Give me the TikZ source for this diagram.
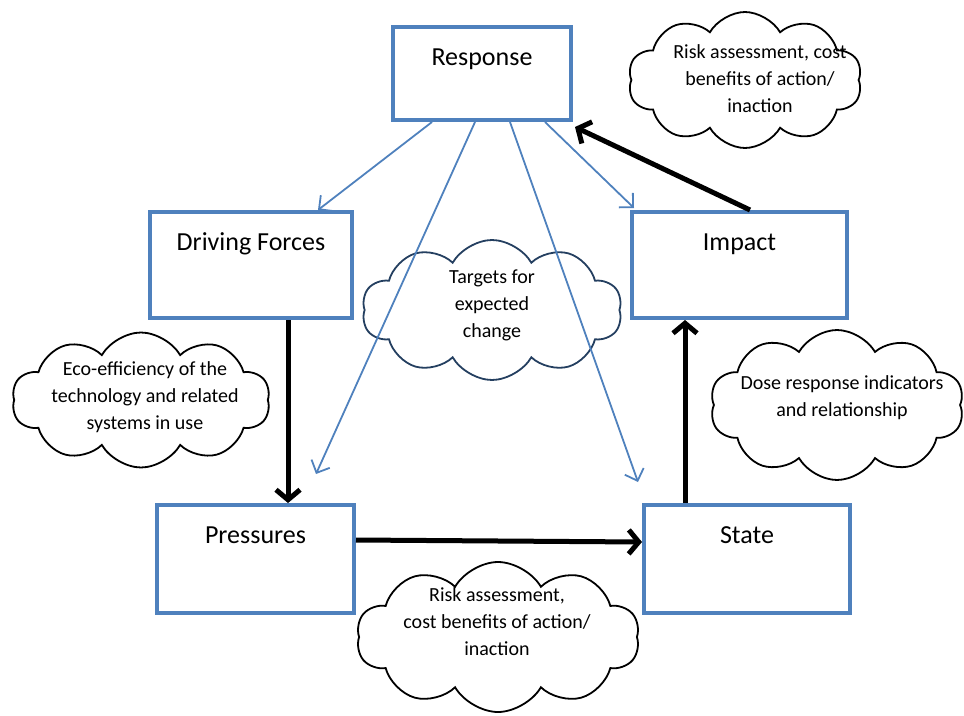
\documentclass[tikz,border=0pt]{standalone}
\usepackage{fontspec}
\setmainfont{Carlito}
\usetikzlibrary{shapes.symbols,arrows.meta,calc}
\definecolor{boxblue}{HTML}{4F81BD}
\definecolor{cloudnavy}{HTML}{243F60}
\tikzset{
  dbox/.style={draw=boxblue,line width=4pt,rectangle,inner sep=0pt},
  boxtext/.style={anchor=base,font=\fontsize{26}{30}\selectfont},
  puff/.style={cloud,draw=black,line width=1.8pt,cloud puffs=10,cloud puff arc=120,cloud ignores aspect,inner sep=0pt},
  cloudtext/.style={align=center,font=\fontsize{20}{27}\selectfont},
  thinarrow/.style={draw=boxblue,line width=1.8pt,-{Straight Barb[length=10pt,width=20pt]}},
  thickarrow/.style={draw=black,line width=5pt,-{Straight Barb[length=10pt,width=24pt]}}
}
\begin{document}
\begin{tikzpicture}[x=1pt,y=-1pt]
\useasboundingbox (0,0) rectangle (964,715);
% boxes
\node[dbox,minimum width=178pt,minimum height=93pt] (resp) at (482,73.5) {};
\node[dbox,minimum width=202pt,minimum height=106pt] (drv) at (251,265) {};
\node[dbox,minimum width=215pt,minimum height=106pt] (imp) at (739.5,265) {};
\node[dbox,minimum width=197pt,minimum height=108pt] (pres) at (255.5,559) {};
\node[dbox,minimum width=206pt,minimum height=108pt] (state) at (747,559) {};
\node[boxtext] (resp-t) at (482,65) {Response};
\node[boxtext] (drv-t) at (251,250) {Driving Forces};
\node[boxtext] (imp-t) at (739.5,250) {Impact};
\node[boxtext] (pres-t) at (255.5,543) {Pressures};
\node[boxtext] (state-t) at (747,543) {State};
% clouds
\node[puff,minimum width=234pt,minimum height=136pt] (c1) at (745,80) {};
\node[cloudtext] (c1-t) at (760,79) {Risk assessment, cost\\benefits of action/\\inaction};
\node[puff,minimum width=258pt,minimum height=135pt] (c2) at (141,400) {};
\node[cloudtext] (c2-t) at (145,397) {Eco-efficiency of the\\technology and related\\systems in use};
\node[puff,draw=cloudnavy,minimum width=260pt,minimum height=140pt] (c3) at (492,310) {};
\node[cloudtext] (c3-t) at (492,305) {Targets for\\expected\\change};
\node[puff,minimum width=254pt,minimum height=150pt] (c4) at (837,405) {};
\node[cloudtext] (c4-t) at (842,398) {Dose response indicators\\and relationship};
\node[puff,minimum width=283pt,minimum height=150pt] (c5) at (498,637) {};
\node[cloudtext] (c5-t) at (497,622) {Risk assessment,\\cost benefits of action/\\inaction};
% blue arrows from Response
\draw[thinarrow] ([xshift=-50pt]resp.south) -- ([xshift=67pt]drv.north);
\draw[thinarrow] ([xshift=-7pt]resp.south) -- ([shift={(60.5,-29)}]pres.north);
\draw[thinarrow] ([xshift=28pt]resp.south) -- ([shift={(-109,-21)}]state.north);
\draw[thinarrow] ([xshift=63pt]resp.south) -- ([shift={(4,-2)}]imp.north west);
% black arrows
\draw[thickarrow] ([xshift=37pt]drv.south) -- ([xshift=32.5pt]pres.north);
\draw[thickarrow] ([yshift=19pt]pres.east) -- ([yshift=17pt]state.west);
\draw[thickarrow] ([xshift=-62pt]state.north) -- ([xshift=-54.5pt]imp.south);
\draw[thickarrow] ([xshift=10.5pt]imp.north) -- ([shift={(2,5)}]resp.south east);
\end{tikzpicture}
\end{document}
